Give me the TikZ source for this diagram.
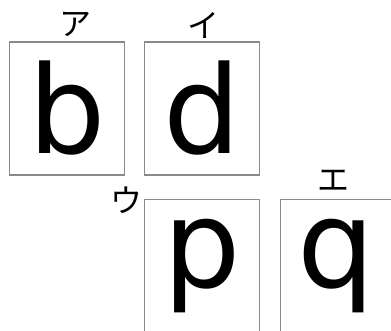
\documentclass[tikz,border=0pt]{standalone}
\usepackage{fontspec}
\setmainfont{DejaVu Sans}
\newfontfamily\kanafont{Noto Sans CJK JP}
\usetikzlibrary{positioning}
\definecolor{frame}{HTML}{8A8A8A}

\begin{document}
\begin{tikzpicture}[x=1pt, y=1pt,
      card/.style={draw=frame, line width=1.1pt, inner sep=0pt, minimum width=115pt, minimum height=133pt,
        font=\fontsize{122}{122}\selectfont},
      kana/.style={font=\kanafont\fontsize{32}{32}\selectfont, inner sep=0pt}]
    \useasboundingbox (0,0) rectangle (391,331);
    % the four letter cards
    \node[card] (b) at (67,222.5) {b};
    \node[card, right=19pt of b] (d) {d};
    \node[card, below=23pt of d] (p) {p};
    \node[card, right=20pt of p, minimum width=112pt] (q) {q};
    % labels
    \node[kana] (la) at (75,307) {ア};
    \node[kana] (li) at (203,306) {イ};
    \node[kana, left=1pt of p.north west, anchor=north east, yshift=12pt] (lu) {ウ};
    \node[kana] (le) at (333,150) {エ};
  \end{tikzpicture}
\end{document}
